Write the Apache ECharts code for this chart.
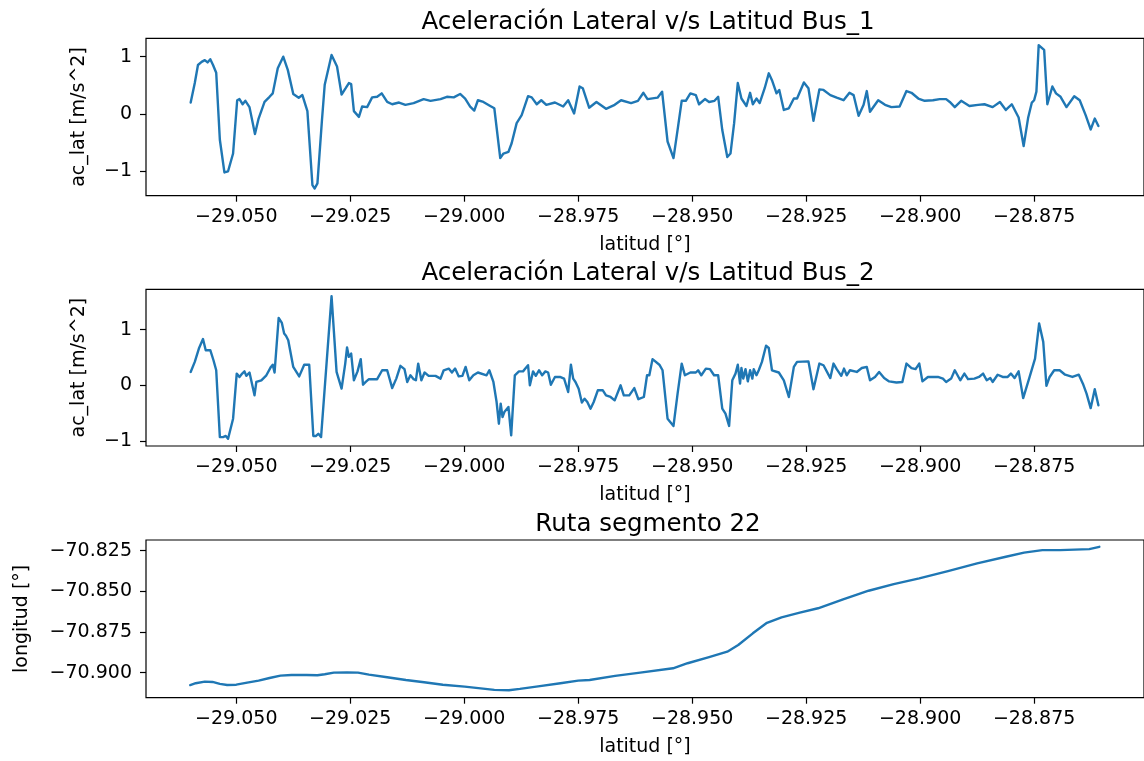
<!DOCTYPE html>
<html>
<head>
<meta charset="utf-8">
<script src="https://cdn.jsdelivr.net/npm/echarts@6/dist/echarts.min.js"></script>
<style>
  html, body { margin: 0; padding: 0; background: #fff; }
  #chart { width: 1144px; height: 761px; }
</style>
</head>
<body>
<div id="chart"></div>
<script>
// Lateral acceleration of bus 1 against latitude
const latBus1 = [
  -29.0600, -29.0591, -29.0584, -29.0576, -29.0569, -29.0563, -29.0557, -29.0551, -29.0544, -29.0536,
  -29.0526, -29.0518, -29.0507, -29.0498, -29.0493, -29.0486, -29.0480, -29.0471, -29.0459, -29.0451,
  -29.0438, -29.0427, -29.0420, -29.0409, -29.0397, -29.0387, -29.0375, -29.0363, -29.0355, -29.0344,
  -29.0333, -29.0328, -29.0322, -29.0312, -29.0306, -29.0291, -29.0279, -29.0269, -29.0260, -29.0253,
  -29.0248, -29.0242, -29.0231, -29.0224, -29.0213, -29.0202, -29.0191, -29.0181, -29.0169, -29.0158,
  -29.0143, -29.0129, -29.0111, -29.0089, -29.0074, -29.0052, -29.0038, -29.0023, -29.0009, -28.9998,
  -28.9987, -28.9978, -28.9970,
  -28.9958, -28.9943, -28.9934, -28.9921, -28.9914, -28.9903, -28.9896, -28.9885, -28.9874, -28.9860,
  -28.9852, -28.9841, -28.9831, -28.9820, -28.9801, -28.9783, -28.9772, -28.9759, -28.9747, -28.9740,
  -28.9726, -28.9710, -28.9689, -28.9670, -28.9656, -28.9634, -28.9619, -28.9607, -28.9598, -28.9576,
  -28.9566, -28.9554, -28.9541, -28.9531, -28.9523, -28.9514, -28.9504, -28.9492, -28.9485, -28.9472,
  -28.9463, -28.9451, -28.9443, -28.9434, -28.9423, -28.9416, -28.9408, -28.9400, -28.9392, -28.9381,
  -28.9373, -28.9367, -28.9359, -28.9352, -28.9341, -28.9332, -28.9325, -28.9315, -28.9309, -28.9299,
  -28.9288, -28.9277,
  -28.9270, -28.9255, -28.9245, -28.9234, -28.9221, -28.9212, -28.9197, -28.9183, -28.9168, -28.9155,
  -28.9146, -28.9135, -28.9124, -28.9117, -28.9110, -28.9092, -28.9077, -28.9063, -28.9045, -28.9030,
  -28.9019, -28.9004, -28.8990, -28.8972, -28.8957, -28.8943, -28.8935, -28.8924, -28.8910, -28.8892,
  -28.8873, -28.8859, -28.8841, -28.8825, -28.8812, -28.8799, -28.8784, -28.8773, -28.8763, -28.8755,
  -28.8750, -28.8745, -28.8740, -28.8728, -28.8721, -28.8710, -28.8702, -28.8692, -28.8679, -28.8662,
  -28.8650, -28.8637, -28.8626, -28.8617, -28.8609
];
const acLatBus1 = [
  0.20, 0.54, 0.855, 0.91, 0.94, 0.90, 0.955, 0.855, 0.72, -0.45,
  -1.02, -1.00, -0.69, 0.24, 0.26, 0.17, 0.23, 0.12, -0.35, -0.08,
  0.21, 0.30, 0.36, 0.80, 1.00, 0.77, 0.35, 0.285, 0.33, 0.05,
  -1.24, -1.30, -1.21, -0.10, 0.51, 1.03, 0.83, 0.34, 0.45, 0.54,
  0.52, 0.05, -0.05, 0.13, 0.12, 0.29, 0.30, 0.36, 0.21, 0.17,
  0.20, 0.16, 0.19, 0.26, 0.23, 0.26, 0.30, 0.29, 0.35, 0.27,
  0.13, 0.06, 0.24,
  0.21, 0.14, 0.10, -0.77, -0.69, -0.66, -0.51, -0.16, -0.02, 0.31,
  0.29, 0.17, 0.24, 0.16, 0.20, 0.13, 0.24, 0.01, 0.48, 0.45,
  0.11, 0.21, 0.09, 0.16, 0.24, 0.19, 0.23, 0.37, 0.26, 0.285,
  0.39, -0.48, -0.77, -0.22, 0.23, 0.23, 0.36, 0.33, 0.17, 0.26,
  0.21, 0.23, 0.30, -0.28, -0.75, -0.69, -0.16, 0.54, 0.27, 0.14,
  0.37, 0.17, 0.27, 0.19, 0.45, 0.71, 0.59, 0.36, 0.42, 0.07,
  0.10, 0.27,
  0.27, 0.55, 0.45, -0.12, 0.43, 0.42, 0.33, 0.285, 0.24, 0.37,
  0.33, -0.03, 0.16, 0.40, 0.04, 0.24, 0.16, 0.12, 0.13, 0.40,
  0.37, 0.27, 0.23, 0.24, 0.26, 0.26, 0.21, 0.12, 0.23, 0.14,
  0.16, 0.17, 0.12, 0.21, 0.07, 0.17, -0.06, -0.56, -0.06, 0.20,
  0.24, 0.39, 1.20, 1.12, 0.17, 0.48, 0.36, 0.30, 0.12, 0.31,
  0.24, -0.02, -0.27, -0.08, -0.21
];

// Lateral acceleration of bus 2 against latitude
const latBus2 = [
  -29.0600, -29.0591, -29.0582, -29.0573, -29.0567, -29.0557, -29.0550, -29.0544, -29.0536, -29.0529,
  -29.0523, -29.0518, -29.0507, -29.0499, -29.0493, -29.0487, -29.0482, -29.0478, -29.0471, -29.0467,
  -29.0460, -29.0456, -29.0445, -29.0434, -29.0424, -29.0420, -29.0416, -29.0407, -29.0400, -29.0395,
  -29.0391, -29.0386, -29.0375, -29.0362, -29.0351, -29.0340, -29.0331, -29.0325, -29.0320, -29.0314,
  -29.0291, -29.0280, -29.0269, -29.0261, -29.0257, -29.0253, -29.0248, -29.0242, -29.0234, -29.0227,
  -29.0222, -29.0216, -29.0209, -29.0191, -29.0180, -29.0169, -29.0158, -29.0149, -29.0140, -29.0131,
  -29.0125, -29.0118, -29.0111, -29.0106, -29.0101, -29.0094, -29.0087, -29.0078, -29.0063, -29.0052,
  -29.0045, -29.0034, -29.0027, -29.0020, -29.0012, -29.0004, -28.9997, -28.9989, -28.9980, -28.9970,
  -28.9951, -28.9945, -28.9936, -28.9929, -28.9924, -28.9920, -28.9916, -28.9912, -28.9903, -28.9897,
  -28.9889, -28.9880, -28.9871, -28.9866, -28.9860, -28.9856, -28.9849, -28.9843, -28.9836, -28.9829,
  -28.9822, -28.9816, -28.9810, -28.9801, -28.9790, -28.9781, -28.9772, -28.9766, -28.9761, -28.9756,
  -28.9749, -28.9742, -28.9736, -28.9730, -28.9723, -28.9716, -28.9707, -28.9696, -28.9689, -28.9679,
  -28.9670, -28.9657, -28.9650, -28.9638, -28.9627, -28.9618, -28.9606, -28.9599, -28.9594, -28.9587,
  -28.9572, -28.9565, -28.9554, -28.9541, -28.9532, -28.9523, -28.9516, -28.9504, -28.9492, -28.9487,
  -28.9480, -28.9470, -28.9461, -28.9452, -28.9443, -28.9434, -28.9427, -28.9419, -28.9412, -28.9405,
  -28.9400, -28.9395, -28.9392, -28.9388, -28.9383, -28.9378, -28.9373, -28.9368, -28.9365, -28.9359,
  -28.9354, -28.9347, -28.9338, -28.9332, -28.9325, -28.9310, -28.9299, -28.9288, -28.9277,
  -28.9270, -28.9245, -28.9234, -28.9221, -28.9212, -28.9197, -28.9190, -28.9183, -28.9173, -28.9167,
  -28.9161, -28.9154, -28.9139, -28.9128, -28.9117, -28.9110, -28.9099, -28.9090, -28.9079, -28.9068,
  -28.9052, -28.9039, -28.9030, -28.9019, -28.9010, -28.9002, -28.8995, -28.8983, -28.8961, -28.8950,
  -28.8943, -28.8932, -28.8924, -28.8912, -28.8903, -28.8895, -28.8881, -28.8871, -28.8862, -28.8854,
  -28.8846, -28.8841, -28.8830, -28.8819, -28.8808, -28.8801, -28.8793, -28.8784, -28.8774, -28.8761,
  -28.8748, -28.8739, -28.8730, -28.8723, -28.8716, -28.8706, -28.8694, -28.8682, -28.8666, -28.8652,
  -28.8643, -28.8635, -28.8626, -28.8617, -28.8609
];
const acLatBus2 = [
  0.24, 0.42, 0.66, 0.83, 0.63, 0.63, 0.45, 0.27, -0.93, -0.93,
  -0.91, -0.96, -0.60, 0.21, 0.15, 0.21, 0.25, 0.17, 0.23, 0.24,
  -0.18, 0.06, 0.09, 0.18, 0.33, 0.37, 0.23, 1.21, 1.12, 0.93,
  0.89, 0.81, 0.33, 0.16, 0.37, 0.37, -0.91, -0.91, -0.87, -0.93,
  1.60, 0.24, -0.06, 0.39, 0.68, 0.51, 0.57, 0.09, 0.25, 0.47,
  0.01, 0.06, 0.11, 0.11, 0.27, 0.27, -0.05, 0.12, 0.35, 0.29,
  0.06, 0.18, 0.11, 0.09, 0.39, 0.09, 0.23, 0.17, 0.17, 0.12,
  0.27, 0.30, 0.23, 0.30, 0.16, 0.17, 0.33, 0.09, 0.18, 0.23,
  0.18, 0.27, 0.06, -0.30, -0.69, -0.33, -0.57, -0.48, -0.39, -0.90,
  0.18, 0.25, 0.25, 0.30, 0.36, 0.00, 0.25, 0.17, 0.27, 0.18,
  0.25, 0.23, 0.01, 0.15, 0.15, 0.12, -0.12, 0.37, 0.12, 0.06,
  -0.06, -0.31, -0.24, -0.30, -0.42, -0.30, -0.09, -0.09, -0.18, -0.21,
  -0.27, 0.00, -0.18, -0.18, -0.05, -0.25, -0.21, 0.18, 0.18, 0.47,
  0.37, 0.27, -0.60, -0.73, -0.15, 0.39, 0.18, 0.23, 0.23, 0.27,
  0.18, 0.30, 0.29, 0.18, 0.18, -0.42, -0.51, -0.73, 0.09, 0.21,
  0.37, 0.03, 0.31, 0.12, 0.29, 0.07, 0.27, 0.12, 0.29, 0.18,
  0.27, 0.42, 0.71, 0.67, 0.27, 0.23, 0.09, -0.21, 0.33,
  0.42, 0.43, -0.07, 0.39, 0.36, 0.13, 0.39, 0.29, 0.17, 0.30,
  0.18, 0.27, 0.24, 0.31, 0.33, 0.09, 0.15, 0.24, 0.13, 0.07,
  0.05, 0.06, 0.39, 0.31, 0.29, 0.39, 0.07, 0.15, 0.15, 0.12,
  0.06, 0.12, 0.27, 0.09, 0.21, 0.11, 0.12, 0.15, 0.21, 0.09,
  0.13, 0.06, 0.19, 0.15, 0.15, 0.21, 0.13, 0.25, -0.23, 0.12,
  0.48, 1.11, 0.78, -0.01, 0.15, 0.27, 0.27, 0.19, 0.15, 0.19,
  0.03, -0.15, -0.41, -0.07, -0.36
];

// Route of segment 22: longitude against latitude
const latRoute = [
  -29.0601, -29.0589, -29.0569, -29.0552, -29.0536, -29.0520, -29.0500, -29.0476, -29.0451, -29.0427,
  -29.0403, -29.0379, -29.0346, -29.0322, -29.0306, -29.0286, -29.0257, -29.0233, -29.0209, -29.0169,
  -29.0128, -29.0088, -29.0047, -28.9999, -28.9959, -28.9934, -28.9902, -28.9878, -28.9838, -28.9789,
  -28.9750, -28.9725, -28.9669, -28.9614, -28.9542, -28.9510, -28.9463, -28.9423, -28.9399, -28.9367,
  -28.9336, -28.9304, -28.9264, -28.9224, -28.9169, -28.9113, -28.9058, -28.9002, -28.8939, -28.8875,
  -28.8812, -28.8772, -28.8732, -28.8693, -28.8629, -28.8607
];
const lonRoute = [
  -70.9076, -70.9065, -70.9055, -70.9057, -70.9069, -70.9076, -70.9074, -70.9061, -70.9049, -70.9033,
  -70.9018, -70.9014, -70.9014, -70.9016, -70.9010, -70.9000, -70.8998, -70.9000, -70.9012, -70.9028,
  -70.9045, -70.9059, -70.9074, -70.9086, -70.9098, -70.9106, -70.9108, -70.9100, -70.9084, -70.9065,
  -70.9049, -70.9045, -70.9020, -70.9000, -70.8973, -70.8942, -70.8905, -70.8871, -70.8830, -70.8758,
  -70.8693, -70.8660, -70.8631, -70.8604, -70.8549, -70.8496, -70.8455, -70.8420, -70.8375, -70.8328,
  -70.8287, -70.8262, -70.8246, -70.8246, -70.8240, -70.8226
];

// Tick positions
const latTicks = [-29.050, -29.025, -29.000, -28.975, -28.950, -28.925, -28.900, -28.875];
const accTicks = [-1, 0, 1];
const lonTicks = [-70.900, -70.875, -70.850, -70.825];

const titles = [
  'Aceleración Lateral v/s Latitud Bus_1',
  'Aceleración Lateral v/s Latitud Bus_2',
  'Ruta segmento 22'
];

const FONT = 'DejaVu Sans';
const INK = '#000';
const LINE = '#1f77b4';
const LABEL_SIZE = 19;
const TITLE_SIZE = 24.5;

function pairs(xs, ys) { return xs.map((x, i) => [x, ys[i]]); }
function signed(v, digits) {
  const s = Math.abs(v).toFixed(digits);
  return v < 0 ? '\u2212' + s : s;
}

const grids = [
  { left: 146, right: -4.5, top: 38.3, height: 157.4 },
  { left: 146, right: -4.5, top: 289.3, height: 156.7 },
  { left: 146, right: -4.5, top: 540, height: 157.7 }
].map(g => Object.assign({ show: true, borderColor: INK, borderWidth: 1.2, backgroundColor: 'transparent' }, g));

const xAxes = [0, 1, 2].map(i => ({
  type: 'value', gridIndex: i,
  min: -29.0698, max: -28.8509,
  name: 'latitud [°]', nameLocation: 'middle', nameGap: 40,
  nameTextStyle: { fontFamily: FONT, fontSize: LABEL_SIZE, color: INK },
  axisLine: { show: false, onZero: false },
  splitLine: { show: false },
  axisTick: { show: true, length: 6, lineStyle: { color: INK, width: 1.2 }, customValues: latTicks },
  axisLabel: { fontFamily: FONT, fontSize: LABEL_SIZE, color: INK, margin: 12,
    customValues: latTicks, formatter: v => signed(v, 3) }
}));

const yDefs = [
  { min: -1.426, max: 1.321, ticks: accTicks, digits: 0, name: 'ac_lat [m/s^2]', gap: 57 },
  { min: -1.090, max: 1.724, ticks: accTicks, digits: 0, name: 'ac_lat [m/s^2]', gap: 57 },
  { min: -70.9154, max: -70.8184, ticks: lonTicks, digits: 3, name: 'longitud [°]', gap: 114 }
];
const yAxes = yDefs.map((d, i) => ({
  type: 'value', gridIndex: i, min: d.min, max: d.max,
  name: d.name, nameLocation: 'middle', nameGap: d.gap, nameRotate: 90,
  nameTextStyle: { fontFamily: FONT, fontSize: LABEL_SIZE, color: INK },
  axisLine: { show: false, onZero: false },
  splitLine: { show: false },
  axisTick: { show: true, length: 6, lineStyle: { color: INK, width: 1.2 }, customValues: d.ticks },
  axisLabel: { fontFamily: FONT, fontSize: LABEL_SIZE, color: INK, margin: 14,
    customValues: d.ticks, formatter: v => signed(v, d.digits) }
}));

const titleTops = [5, 256, 507];
const title = titles.map((t, i) => ({
  text: t, left: 643, top: titleTops[i], textAlign: 'center',
  textStyle: { fontFamily: FONT, fontSize: TITLE_SIZE, fontWeight: 'normal', color: INK }
}));

const lineSeries = (data, i) => ({
  type: 'line', xAxisIndex: i, yAxisIndex: i, data,
  showSymbol: false, symbol: 'none', smooth: false,
  lineStyle: { color: LINE, width: 2.4, join: 'round', cap: 'round' },
  emphasis: { disabled: true }
});

const chart = echarts.init(document.getElementById('chart'), null, { renderer: 'canvas' });
chart.setOption({
  animation: false,
  backgroundColor: '#fff',
  title,
  grid: grids,
  xAxis: xAxes,
  yAxis: yAxes,
  series: [
    lineSeries(pairs(latBus1, acLatBus1), 0),
    lineSeries(pairs(latBus2, acLatBus2), 1),
    lineSeries(pairs(latRoute, lonRoute), 2)
  ]
});
</script>
</body>
</html>
